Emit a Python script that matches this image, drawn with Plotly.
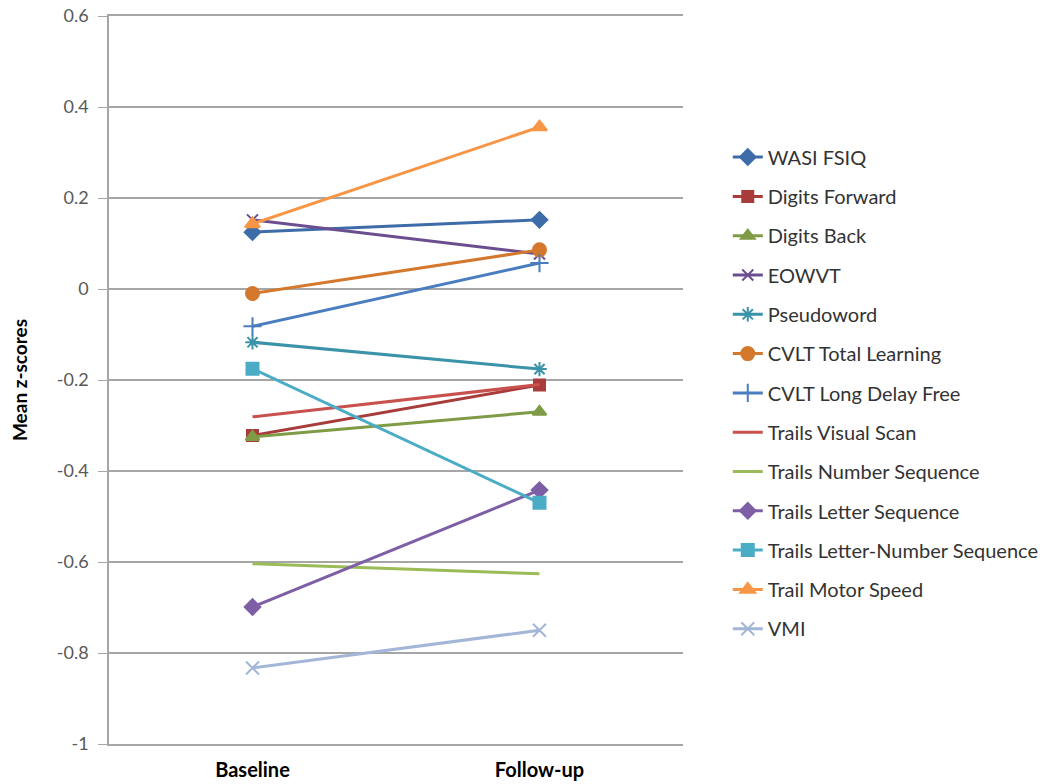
import plotly.graph_objects as go

categories = ["Baseline", "Follow-up"]
series_names = ["WASI FSIQ", "Digits Forward", "Digits Back", "EOWVT", "Pseudoword",
                "CVLT Total Learning", "CVLT Long Delay Free", "Trails Visual Scan",
                "Trails Number Sequence", "Trails Letter Sequence",
                "Trails Letter-Number Sequence", "Trail Motor Speed", "VMI"]
baseline = [0.125, -0.322, -0.325, 0.152, -0.117, -0.010, -0.082, -0.281, -0.604, -0.699, -0.175, 0.143, -0.833]
followup = [0.152, -0.211, -0.270, 0.077, -0.176, 0.086, 0.057, -0.210, -0.626, -0.442, -0.470, 0.356, -0.750]
ytick_vals = [0.6, 0.4, 0.2, 0, -0.2, -0.4, -0.6, -0.8, -1]
ytick_text = ["0.6", "0.4", "0.2", "0", "-0.2", "-0.4", "-0.6", "-0.8", "-1"]

colors = ["#3D6CA8", "#A83C3A", "#7F9B46", "#6B4E90", "#3A93A8", "#D3782C", "#4A7DC0",
          "#C8504D", "#9BBB59", "#7E5FA6", "#4BACC6", "#F79646", "#A3B6D8"]
symbols = ["diamond", "square", "triangle-up", "x-thin-open", "asterisk-open", "circle",
           "cross-thin-open", None, None, "diamond", "square", "triangle-up", "x-thin-open"]
sizes = [12, 11, 12, 11, 12, 13, 13, 0, 0, 12, 12, 13, 13]

fig = go.Figure()
for i, name in enumerate(series_names):
    sym = symbols[i]
    mode = "lines+markers" if sym else "lines"
    marker = dict(symbol=sym, size=sizes[i], color=colors[i],
                  line=dict(color=colors[i], width=2)) if sym else None
    fig.add_trace(go.Scatter(
        x=categories, y=[baseline[i], followup[i]], name=name, mode=mode,
        line=dict(color=colors[i], width=3), marker=marker, legendgroup=name,
    ))

fig.update_layout(
    width=1050, height=784,
    margin=dict(l=109, r=367, t=16, b=40, autoexpand=False),
    paper_bgcolor="white", plot_bgcolor="white",
    font=dict(family="Lato, Open Sans, sans-serif", size=16, color="#404040"),
    showlegend=True,
    legend=dict(x=1.078, y=0.833, xanchor="left", yanchor="top",
                font=dict(size=20, color="#333333"), tracegroupgap=10.3,
                bgcolor="rgba(0,0,0,0)"),
    xaxis=dict(type="category", range=[-0.5, 1.5], showgrid=False,
               showline=True, mirror=True, linecolor="#A6A6A6", linewidth=1.5,
               ticks="", automargin=False, ticklabelstandoff=7,
               tickfont=dict(size=20, color="black", family="Lato, sans-serif", weight="bold")),
    yaxis=dict(range=[-1, 0.6], tickvals=ytick_vals, ticktext=ytick_text, automargin=False,
               showgrid=True, gridcolor="#A6A6A6", gridwidth=1.5,
               showline=True, linecolor="#A6A6A6", linewidth=1.5,
               ticks="outside", ticklen=9, tickcolor="#A6A6A6", ticklabelstandoff=6,
               tickfont=dict(size=18, color="#595959"), zeroline=False,
               title=dict(text="Mean z-scores", standoff=24,
                          font=dict(size=19, color="black", family="Lato, sans-serif", weight="bold"))),
)
fig.write_html("out.html", config={"displayModeBar": False},
               post_script="document.body.style.margin='0';document.body.style.overflow='hidden';")
